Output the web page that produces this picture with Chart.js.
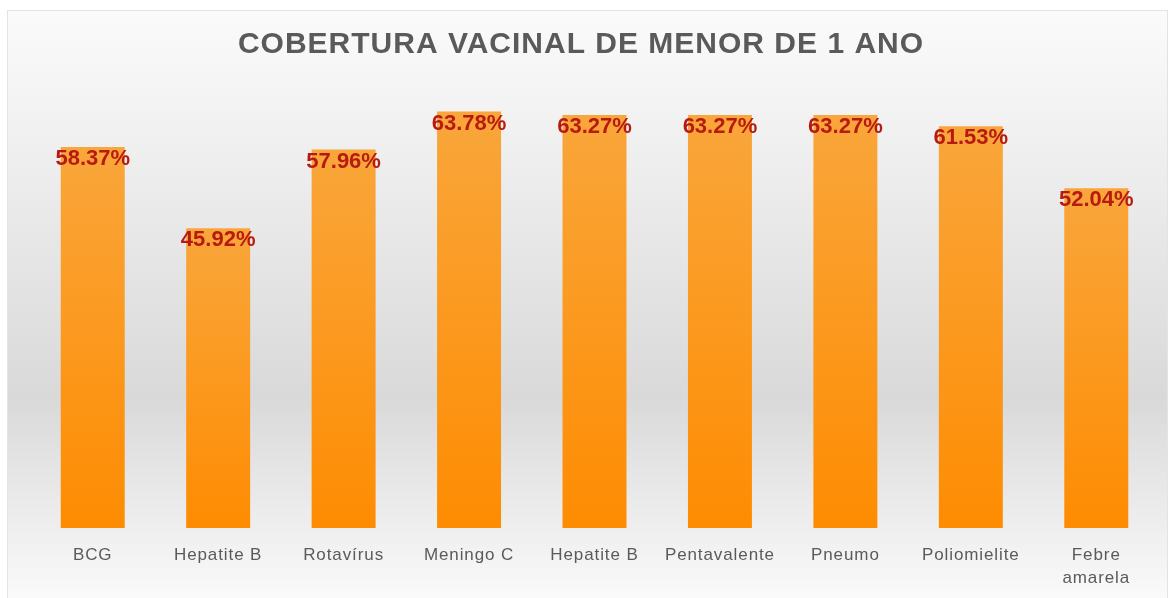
<!DOCTYPE html>
<html>
<head>
<meta charset="utf-8">
<script src="https://cdn.jsdelivr.net/npm/chart.js@4"></script>
<style>
  html, body { margin: 0; padding: 0; background: #fff; }
  #wrap { position: relative; width: 1173px; height: 598px; }
</style>
</head>
<body>
<div id="wrap"><canvas id="chart" width="1173" height="598"></canvas></div>
<script>
const categories = ['BCG', 'Hepatite B', 'Rotavírus', 'Meningo C', 'Hepatite B', 'Pentavalente', 'Pneumo', 'Poliomielite', ['Febre', 'amarela']];
const coverage = [58.37, 45.92, 57.96, 63.78, 63.27, 63.27, 63.27, 61.53, 52.04];
const chartTitle = 'COBERTURA VACINAL DE MENOR DE 1 ANO';

const FONT = '"Liberation Sans", Arial, sans-serif';

// gray gradient panel, border and title; x labels get a bit of letter spacing
const panelBackground = {
  id: 'panelBackground',
  beforeDraw(chart) {
    const ctx = chart.ctx;
    const x = 7, y = 10, w = 1160, h = 600;
    const g = ctx.createLinearGradient(0, y, 0, 598);
    g.addColorStop(0, '#fbfbfb');
    g.addColorStop(0.2, '#f1f1f1');
    g.addColorStop(0.66, '#d9d9d9');
    g.addColorStop(1, '#fafafa');
    ctx.save();
    ctx.fillStyle = g;
    ctx.fillRect(x, y, w, h);
    ctx.strokeStyle = '#e3e3e3';
    ctx.lineWidth = 1;
    ctx.strokeRect(x + 0.5, y + 0.5, w, h);

    ctx.font = 'bold 30px ' + FONT;
    ctx.letterSpacing = '1px';
    ctx.fillStyle = '#5a5a5a';
    ctx.textAlign = 'center';
    ctx.textBaseline = 'alphabetic';
    ctx.fillText(chartTitle, 581, 53);
    ctx.restore();
    ctx.letterSpacing = '0.9px';
  },
  beforeDatasetsDraw(chart) {
    chart.ctx.letterSpacing = '0px';
  }
};

// value labels just inside the top of each bar
const valueLabels = {
  id: 'valueLabels',
  afterDatasetsDraw(chart) {
    const ctx = chart.ctx;
    const meta = chart.getDatasetMeta(0);
    ctx.save();
    ctx.font = 'bold 22px ' + FONT;
    ctx.fillStyle = '#b81a10';
    ctx.textAlign = 'center';
    ctx.textBaseline = 'middle';
    meta.data.forEach((bar, i) => {
      ctx.fillText(coverage[i].toFixed(2) + '%', bar.x, bar.y + 12);
    });
    ctx.restore();
  }
};

function barGradient(context) {
  const chart = context.chart;
  if (!chart.chartArea || context.type !== 'data') return '#fd9a1c';
  const yScale = chart.scales.y;
  const top = yScale.getPixelForValue(context.raw);
  const bottom = yScale.getPixelForValue(0);
  const g = chart.ctx.createLinearGradient(0, top, 0, bottom);
  g.addColorStop(0, '#f9a63b');
  g.addColorStop(1, '#fe8c02');
  return g;
}

new Chart(document.getElementById('chart'), {
  type: 'bar',
  data: {
    labels: categories,
    datasets: [{
      data: coverage,
      backgroundColor: barGradient,
      borderWidth: 0,
      categoryPercentage: 1,
      barPercentage: 0.51
    }]
  },
  options: {
    responsive: false,
    animation: false,
    layout: { padding: { left: 30, right: 14, top: 71, bottom: 0 } },
    plugins: {
      legend: { display: false },
      tooltip: { enabled: false },
      title: { display: false }
    },
    scales: {
      x: {
        grid: { display: false, drawTicks: false },
        border: { display: false },
        ticks: {
          color: '#5a5a5a',
          padding: 15,
          maxRotation: 0,
          autoSkip: false,
          font: { family: FONT, size: 17, lineHeight: 1.4 }
        },
        afterFit(axis) { axis.height = 70; }
      },
      y: {
        display: false,
        min: 0,
        max: 70
      }
    }
  },
  plugins: [panelBackground, valueLabels]
});
</script>
</body>
</html>
